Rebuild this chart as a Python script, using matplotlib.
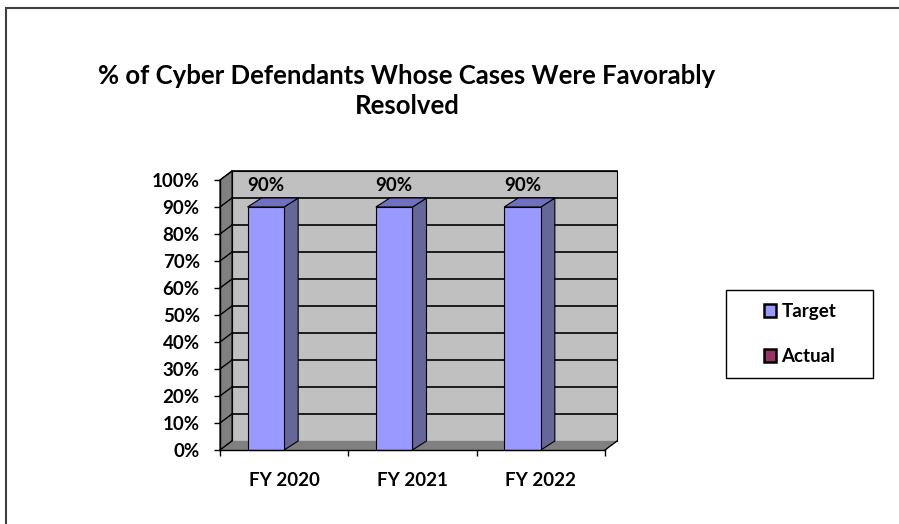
import matplotlib
matplotlib.use("Agg")
import matplotlib.pyplot as plt
import matplotlib.patches as patches
import numpy as np

plt.rcParams['font.family'] = ['Lato', 'DejaVu Sans']
plt.rcParams['font.weight'] = 'bold'

# data
categories = ['FY 2020', 'FY 2021', 'FY 2022']
series_names = ['Target', 'Actual']
target = [90, 90, 90]
actual = [0, 0, 0]
y_ticks = [0, 10, 20, 30, 40, 50, 60, 70, 80, 90, 100]

front_colors = ['#9999FF', '#993366']
side_colors = ['#666699', '#4d1933']
top_colors = ['#7070C0', '#732650']

W, H = 899, 524
fig = plt.figure(figsize=(W / 100, H / 100), dpi=100)
fig.patch.set_facecolor('white')

# front plane of the plot area, in pixels
px_left, px_right, px_top, px_bottom = 220, 605, 180, 450
ax = fig.add_axes([px_left / W, 1 - px_bottom / H,
                   (px_right - px_left) / W, (px_bottom - px_top) / H])
n = len(categories)
ax.set_xlim(0, n)
ax.set_ylim(0, 100)
ax.patch.set_visible(False)

# pixel offsets of the 3d depth, converted to data units
ux = n / (px_right - px_left)
uy = 100 / (px_bottom - px_top)
wdx, wdy = 12 * ux, 9 * uy
bdx, bdy = 14 * ux, 9 * uy

# walls
ax.add_patch(patches.Polygon([(wdx, wdy), (n + wdx, wdy), (n + wdx, 100 + wdy), (wdx, 100 + wdy)],
                             closed=True, facecolor='#C0C0C0', edgecolor='black', lw=0.8,
                             clip_on=False, zorder=0))
ax.add_patch(patches.Polygon([(0, 0), (wdx, wdy), (wdx, 100 + wdy), (0, 100)],
                             closed=True, facecolor='#808080', edgecolor='black', lw=0.8,
                             clip_on=False, zorder=0.5))
ax.add_patch(patches.Polygon([(0, 0), (n, 0), (n + wdx, wdy), (wdx, wdy)],
                             closed=True, facecolor='#808080', edgecolor='none',
                             clip_on=False, zorder=0.5))
ax.plot([n, n + wdx], [0, wdy], color='black', lw=1, clip_on=False, zorder=1)

# gridlines on back and side walls
for v in y_ticks[1:]:
    ax.plot([wdx, n + wdx], [v + wdy, v + wdy], color='black', lw=1.2, clip_on=False, zorder=1)
    ax.plot([0, wdx], [v, v + wdy], color='black', lw=1, clip_on=False, zorder=1)
ax.plot([0, wdx], [0, wdy], color='black', lw=1, clip_on=False, zorder=1)

# bars (gap width 150%)
bw = 1 / 3.5
x = np.arange(n)
for k, vals in enumerate([target, actual]):
    xs = x + 0.75 * bw + k * bw
    bars = ax.bar(xs, vals, width=bw, align='edge', color=front_colors[k],
                  edgecolor='black', lw=0.8 if max(vals) > 0 else 0,
                  label=series_names[k], zorder=3, clip_on=False)
    for xi, v in zip(xs, vals):
        if v <= 0:
            continue
        ax.add_patch(patches.Polygon([(xi + bw, 0), (xi + bw + bdx, bdy), (xi + bw + bdx, v + bdy), (xi + bw, v)],
                                     closed=True, facecolor=side_colors[k], edgecolor='black',
                                     lw=0.8, zorder=2.5, clip_on=False))
        ax.add_patch(patches.Polygon([(xi, v), (xi + bdx, v + bdy), (xi + bw + bdx, v + bdy), (xi + bw, v)],
                                     closed=True, facecolor=top_colors[k], edgecolor='black',
                                     lw=0.8, zorder=2.5, clip_on=False))
    if k == 0:
        for xi, v in zip(xs, vals):
            ax.annotate(f'{v}%', (xi + bw / 2, v + bdy), xytext=(0, 3),
                        textcoords='offset points', ha='center', va='bottom',
                        fontsize=13.5, fontweight='bold')

# axes
for s in ['top', 'right']:
    ax.spines[s].set_visible(False)
for s in ['left', 'bottom']:
    ax.spines[s].set_color('black')
    ax.spines[s].set_linewidth(1)
    ax.spines[s].set_zorder(4)
ax.set_yticks(y_ticks)
ax.set_yticklabels([f'{v}%' for v in y_ticks])
ax.tick_params(axis='y', length=4.5, width=1, direction='out', labelsize=13.5, pad=10)
ax.set_xticks(np.arange(n + 1))
ax.set_xticklabels([])
ax.set_xticks(x + 0.5, minor=True)
ax.set_xticklabels(categories, minor=True)
ax.tick_params(axis='x', which='major', length=4.5, width=1, direction='out')
ax.tick_params(axis='x', which='minor', length=0, labelsize=13.5, pad=16)

fig.text(407 / W, 1 - 91 / H, '% of Cyber Defendants Whose Cases Were Favorably\nResolved',
         ha='center', va='center', fontsize=18.5, fontweight='bold', linespacing=1.32)

# legend: entries centred in a fixed box
fig.add_artist(patches.Rectangle((726 / W, 1 - 378 / H), 147 / W, 88 / H, transform=fig.transFigure,
                                 fill=False, edgecolor='black', lw=1))
leg = ax.legend(loc='center', bbox_to_anchor=(800 / W, 1 - 334 / H),
                bbox_transform=fig.transFigure, frameon=False,
                fontsize=13.5, handlelength=0.65, handleheight=0.65, handletextpad=0.3,
                labelspacing=1.5, borderpad=0, borderaxespad=0)
for h, c in zip(leg.legend_handles, front_colors):
    h.set_facecolor(c)
    h.set_edgecolor('black')
    h.set_linewidth(1.8)

fig.add_artist(patches.Rectangle((6 / W, -0.2), 2, 1 - 8 / H + 0.2, transform=fig.transFigure,
                                 fill=False, edgecolor='#404040', lw=1.5))

fig.savefig('out.png', dpi=100)
